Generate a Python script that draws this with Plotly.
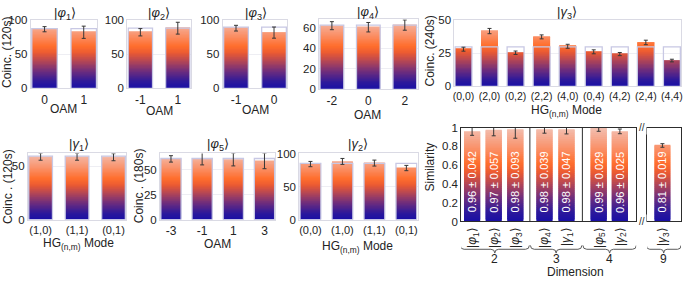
import plotly.graph_objects as go
from plotly.colors import sample_colorscale
import numpy as np

W, H = 685, 284

# ---------------- data ----------------
oam_phi1 = ["0", "1"]
phi1_vals = [87, 82.5]
phi1_err = [3.8, 9.0]
phi1_theory = [88, 88]

oam_phi2 = ["-1", "1"]
phi2_vals = [82.5, 88.5]
phi2_err = [5.4, 8.7]
phi2_theory = [88.5, 88.5]

oam_phi3 = ["-1", "0"]
phi3_vals = [88.5, 82]
phi3_err = [4.2, 8.2]
phi3_theory = [90, 90]

oam_phi4 = ["-2", "0", "2"]
phi4_vals = [61.9, 60.4, 62.5]
phi4_err = [3.9, 4.6, 5.0]
phi4_theory = [62.5, 62.5, 62.5]

hg_gamma3 = ["(0,0)", "(2,0)", "(0,2)", "(2,2)", "(4,0)", "(0,4)", "(4,2)", "(2,4)", "(4,4)"]
gamma3_vals = [28.2, 41.9, 25.5, 37.5, 30.4, 26.2, 24.5, 33.3, 19.6]
gamma3_err = [1.5, 2.0, 1.3, 1.5, 1.5, 1.5, 1.2, 1.7, 1.0]
gamma3_theory = [30, 30, 30, 30, 30, 30, 30, 30, 30]

hg_gamma1 = ["(1,0)", "(1,1)", "(0,1)"]
gamma1_vals = [59, 59, 58.5]
gamma1_err = [3.3, 3.3, 3.3]
gamma1_theory = [59.5, 59.5, 59.5]

oam_phi5 = ["-3", "-1", "1", "3"]
phi5_vals = [60.6, 61, 60, 58.6]
phi5_err = [3.2, 6.4, 6.4, 7.8]
phi5_theory = [61, 61, 61, 61]

hg_gamma2 = ["(0,0)", "(1,0)", "(1,1)", "(0,1)"]
gamma2_vals = [84, 88, 85.5, 78]
gamma2_err = [4.0, 4.5, 4.5, 4.0]
gamma2_theory = [85, 85, 85, 85]

sim_labels = ["|<i>φ</i><sub>1</sub>⟩", "|<i>φ</i><sub>2</sub>⟩", "|<i>φ</i><sub>3</sub>⟩",
              "|<i>φ</i><sub>4</sub>⟩", "|<i>γ</i><sub>1</sub>⟩", "|<i>φ</i><sub>5</sub>⟩",
              "|<i>γ</i><sub>2</sub>⟩"]
sim_pos = [0, 1, 2, 3.35, 4.37, 5.86, 6.84]
sim_vals = [0.96, 0.97, 0.98, 0.98, 0.98, 0.99, 0.96]
sim_err = [0.042, 0.057, 0.093, 0.039, 0.047, 0.029, 0.025]
sim9_label = ["|<i>γ</i><sub>3</sub>⟩"]
sim9_vals = [0.81]
sim9_err = [0.019]
dims = ["2", "3", "4", "9"]
group_edges = [(-0.55, 2.65), (2.7, 5.08), (5.13, 7.6)]
dividers = [2.675, 5.105]

# ---------------- style ----------------
FONT = "Liberation Sans, Arial, sans-serif"
TXT = "rgb(35,35,35)"
cs = [
    [0.0, 'rgb(25,15,165)'],
    [0.1, 'rgb(45,25,155)'],
    [0.25, 'rgb(110,45,125)'],
    [0.4, 'rgb(180,70,85)'],
    [0.52, 'rgb(235,90,50)'],
    [0.62, 'rgb(255,110,45)'],
    [0.78, 'rgb(250,145,105)'],
    [1.0, 'rgb(242,192,178)'],
]

fig = go.Figure()
layout = dict(width=W, height=H, margin=dict(l=0, r=0, t=0, b=0),
              paper_bgcolor="white", plot_bgcolor="white", showlegend=False,
              barmode="overlay", font=dict(family=FONT, size=12, color=TXT))
annotations = []
shapes = []


def xd(a, b):
    return [a / W, b / W]


def yd(top, bot):
    return [1 - bot / H, 1 - top / H]


def gradient_bars(xs, vals, ymax, width, xa, ya, N=50):
    lv = np.linspace(0, ymax, N + 1)
    bx, bb, by, bc = [], [], [], []
    eps = ymax * 0.02
    for x, v in zip(xs, vals):
        for k in range(N):
            lo, hi = lv[k], lv[k + 1]
            if lo >= v:
                break
            top = min(hi + eps, v)
            bx.append(x)
            bb.append(lo)
            by.append(top - lo)
            bc.append(sample_colorscale(cs, [min(1.0, (lo + hi) / 2 / ymax)])[0])
    fig.add_trace(go.Bar(x=bx, y=by, base=bb, width=width, marker=dict(color=bc, line=dict(width=0)),
                         xaxis=xa, yaxis=ya, hoverinfo="skip"))


def errbars(xs, vals, errs, xa, ya):
    fig.add_trace(go.Scatter(x=xs, y=vals, mode="markers", marker=dict(size=1, color="rgba(0,0,0,0)"),
                             error_y=dict(type="data", array=errs, color="rgb(55,55,55)", thickness=1, width=2),
                             xaxis=xa, yaxis=ya, cliponaxis=False, hoverinfo="skip"))


def panel(n, cats, vals, errs, theory, ymax, dtick, xdom, ydom, title, tpos, xtitle, xtpos,
          ytitle=None, ytpos=None, xfs=12):
    xa = "x" if n == 1 else f"x{n}"
    ya = "y" if n == 1 else f"y{n}"
    xs = list(range(len(cats)))
    w = 0.65
    gradient_bars(xs, vals, ymax, w, xa, ya)
    fig.add_trace(go.Bar(x=xs, y=theory, width=w,
                         marker=dict(color="rgba(0,0,0,0)", line=dict(color="rgb(200,200,228)", width=1.3)),
                         xaxis=xa, yaxis=ya, hoverinfo="skip"))
    errbars(xs, vals, errs, xa, ya)
    kx = "xaxis" if n == 1 else f"xaxis{n}"
    ky = "yaxis" if n == 1 else f"yaxis{n}"
    layout[kx] = dict(domain=xdom, anchor=ya, range=[-0.35, len(cats) - 0.65], tickvals=xs, ticktext=cats,
                      tickangle=0, showgrid=False, zeroline=False, showline=True, mirror=True,
                      linecolor="rgb(218,218,228)", linewidth=1, ticks="",
                      tickfont=dict(size=xfs, color=TXT, family=FONT))
    layout[ky] = dict(domain=ydom, anchor=xa, range=[0, ymax], dtick=dtick, tick0=0,
                      showgrid=True, gridcolor="rgb(238,238,243)", zeroline=False, showline=True, mirror=True,
                      linecolor="rgb(218,218,228)", linewidth=1, ticks="",
                      tickfont=dict(size=11.5, color=TXT, family=FONT))
    annotations.append(dict(text=title, x=tpos[0] / W, y=1 - tpos[1] / H, xref="paper", yref="paper",
                            showarrow=False, font=dict(size=13, color=TXT), xanchor="center", yanchor="middle"))
    annotations.append(dict(text=xtitle, x=xtpos[0] / W, y=1 - xtpos[1] / H, xref="paper", yref="paper",
                            showarrow=False, font=dict(size=12, color=TXT), xanchor="center", yanchor="middle"))
    if ytitle:
        annotations.append(dict(text=ytitle, x=ytpos[0] / W, y=1 - ytpos[1] / H, xref="paper", yref="paper",
                                showarrow=False, textangle=-90, font=dict(size=12, color=TXT),
                                xanchor="center", yanchor="middle"))


HGT = "HG<sub>(n,m)</sub> Mode"
panel(1, oam_phi1, phi1_vals, phi1_err, phi1_theory, 100, 50, xd(29, 96), yd(15, 86),
      "|<i>φ</i><sub>1</sub>⟩", (63, 8), "OAM", (62, 108), "Coinc. (120s)", (5, 48))
panel(2, oam_phi2, phi2_vals, phi2_err, phi2_theory, 100, 50, xd(126, 190), yd(15, 86),
      "|<i>φ</i><sub>2</sub>⟩", (158, 8), "OAM", (158, 110))
panel(3, oam_phi3, phi3_vals, phi3_err, phi3_theory, 100, 50, xd(222, 287), yd(15, 86),
      "|<i>φ</i><sub>3</sub>⟩", (255, 8), "OAM", (255, 109))
panel(4, oam_phi4, phi4_vals, phi4_err, phi4_theory, 68, 20, xd(319, 418), yd(14, 87),
      "|<i>φ</i><sub>4</sub>⟩", (368, 7), "OAM", (368, 113.5))
panel(5, hg_gamma3, gamma3_vals, gamma3_err, gamma3_theory, 50, 25, xd(455, 683), yd(15, 84),
      "|<i>γ</i><sub>3</sub>⟩", (568, 7), HGT, (568, 110), "Coinc. (240s)", (431, 47), xfs=10.5)
panel(6, hg_gamma1, gamma1_vals, gamma1_err, gamma1_theory, 62, 50, xd(26, 125), yd(154, 223),
      "|<i>γ</i><sub>1</sub>⟩", (77, 145), HGT, (77, 249), "Coinc . (120s)", (6, 188), xfs=11)
panel(7, oam_phi5, phi5_vals, phi5_err, phi5_theory, 66, 25, xd(159, 275), yd(154, 223),
      "|<i>φ</i><sub>5</sub>⟩", (217, 145), "OAM", (217, 248), "Coinc . (180s)", (138, 188))
panel(8, hg_gamma2, gamma2_vals, gamma2_err, gamma2_theory, 100, 50, xd(299, 418), yd(154, 223),
      "|<i>γ</i><sub>2</sub>⟩", (358, 145), HGT, (358, 252), xfs=11)

# ---------------- similarity panel ----------------
FR = "rgb(45,45,45)"
gradient_bars(sim_pos, sim_vals, 1.0, 0.75, "x9", "y9")
errbars(sim_pos, sim_vals, sim_err, "x9", "y9")
gradient_bars([0], sim9_vals, 1.0, 0.94, "x10", "y10")
errbars([0], sim9_vals, sim9_err, "x10", "y10")

layout["xaxis9"] = dict(domain=xd(462, 638), anchor="y9", range=[-0.5, 7.6], tickvals=sim_pos, ticktext=sim_labels,
                        tickangle=-90, showgrid=False, zeroline=False, showline=True, mirror=True,
                        linecolor=FR, linewidth=1, ticks="", tickfont=dict(size=12, color=TXT))
layout["yaxis9"] = dict(domain=yd(127, 225), anchor="x9", range=[0, 1], showgrid=False, zeroline=False,
                        showline=True, mirror=True, linecolor=FR, linewidth=1, ticks="",
                        tickvals=[0, 0.2, 0.4, 0.6, 0.8, 1], ticktext=["0", "0.2", "0.4", "0.6", "0.8", "1"],
                        tickfont=dict(size=11.5, color=TXT))
layout["xaxis10"] = dict(domain=xd(649, 683), anchor="y10", range=[-0.9, 1.1], tickvals=[0], ticktext=sim9_label,
                         tickangle=-90, showgrid=False, zeroline=False, showline=True, mirror=True,
                         linecolor=FR, linewidth=1, ticks="", tickfont=dict(size=12, color=TXT))
layout["yaxis10"] = dict(domain=yd(127, 225), anchor="x10", range=[0, 1], showgrid=False, zeroline=False,
                         showline=True, mirror=True, linecolor=FR, linewidth=1, ticks="", showticklabels=False)

for i, x in enumerate(sim_pos):
    txt = f"{sim_vals[i]:.2f} ± {sim_err[i]:.3f}"
    annotations.append(dict(text=txt, x=x, y=0.42, xref="x9", yref="y9", showarrow=False, textangle=-90,
                            font=dict(size=11, color="white"), xanchor="center", yanchor="middle"))
annotations.append(dict(text=f"{sim9_vals[0]:.2f} ± {sim9_err[0]:.3f}", x=0, y=0.42, xref="x10", yref="y10",
                        showarrow=False, textangle=-90, font=dict(size=11, color="white"),
                        xanchor="center", yanchor="middle"))

for d in dividers:
    shapes.append(dict(type="line", xref="x9", yref="y9", x0=d, x1=d, y0=0, y1=1, line=dict(color=FR, width=1)))

# break marks
for yy in (127, 225):
    annotations.append(dict(text="//", x=643.5 / W, y=1 - yy / H, xref="paper", yref="paper", showarrow=False,
                            font=dict(size=10, color=FR), xanchor="center", yanchor="middle", bgcolor="white"))

ytop, ymid, ybot = 1 - 250 / H, 1 - 254 / H, 1 - 258 / H


def brace(x0, x1, xref, r):
    xm = (x0 + x1) / 2
    path = (f"M {x0},{ytop} Q {x0},{ymid} {x0 + r},{ymid} L {xm - r},{ymid} "
            f"Q {xm},{ymid} {xm},{ybot} Q {xm},{ymid} {xm + r},{ymid} L {x1 - r},{ymid} "
            f"Q {x1},{ymid} {x1},{ytop}")
    shapes.append(dict(type="path", path=path, xref=xref, yref="paper", line=dict(color="rgb(90,90,90)", width=1)))
    return xm


for (a, b), lab in zip(group_edges, dims[:3]):
    xm = brace(a, b, "x9", 0.18)
    annotations.append(dict(text=lab, x=xm, y=1 - 264 / H, xref="x9", yref="paper", showarrow=False,
                            font=dict(size=12, color=TXT), xanchor="center", yanchor="middle"))
xm = brace(-0.95, 1.1, "x10", 0.2)
annotations.append(dict(text=dims[3], x=xm, y=1 - 264 / H, xref="x10", yref="paper", showarrow=False,
                        font=dict(size=12, color=TXT), xanchor="center", yanchor="middle"))
annotations.append(dict(text="Dimension", x=577 / W, y=1 - 277.5 / H, xref="paper", yref="paper", showarrow=False,
                        font=dict(size=12, color=TXT), xanchor="center", yanchor="middle"))
annotations.append(dict(text="Similarity", x=430 / W, y=1 - 168 / H, xref="paper", yref="paper", showarrow=False,
                        textangle=-90, font=dict(size=12, color=TXT), xanchor="center", yanchor="middle"))

layout["annotations"] = annotations
layout["shapes"] = shapes
fig.update_layout(**layout)
fig.write_html("out.html", config={"displayModeBar": False},
               post_script="document.body.style.margin='0px';")
